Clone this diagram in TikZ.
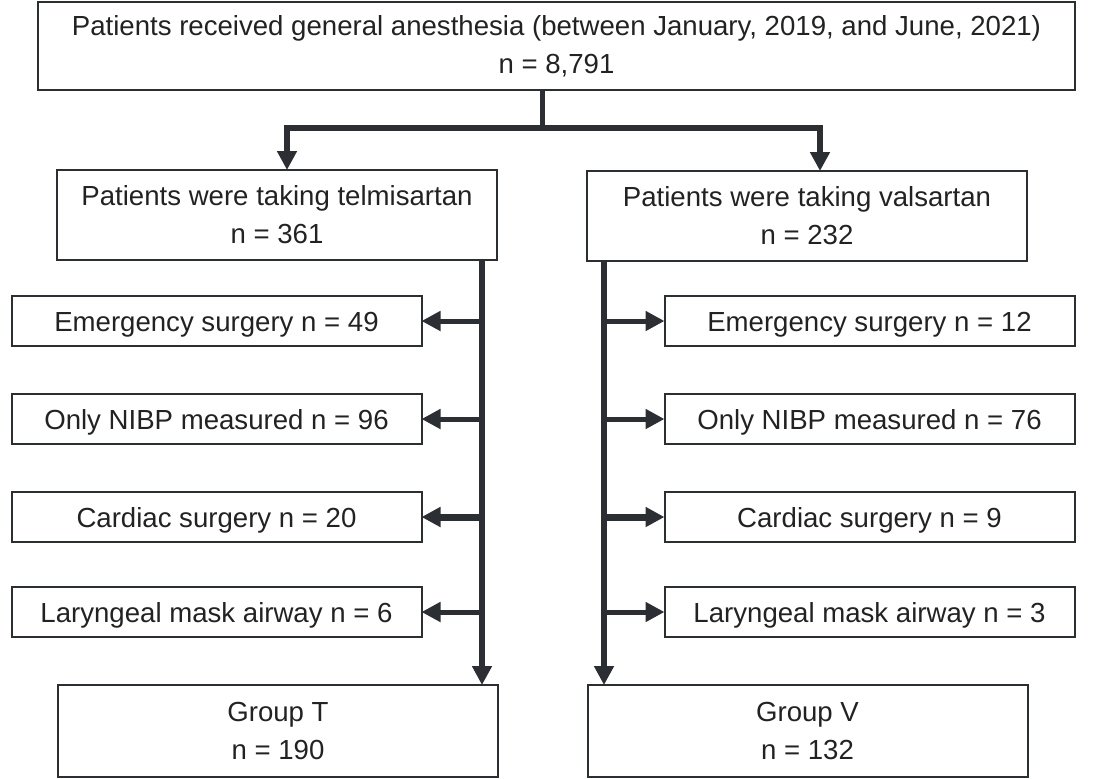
\documentclass[tikz,border=0pt]{standalone}
\usepackage{fontspec}
\setmainfont{Liberation Sans}
\usetikzlibrary{arrows.meta}
\usetikzlibrary{positioning}
\definecolor{inkgray}{HTML}{2B2E33}
\definecolor{textgray}{HTML}{222222}
\tikzset{
  flowbox/.style={draw=inkgray, line width=1pt, align=center, inner sep=0pt,
    outer sep=0pt, text=textgray, font=\fontsize{13.8}{19}\selectfont},
  twoline/.style={flowbox, execute at begin node={\rule{0pt}{13.5pt}}},
  bigbox/.style={twoline, minimum width=220pt, minimum height=45pt},
  exclbox/.style={flowbox, minimum width=205pt, minimum height=25pt,
    text height=13.5pt, text depth=2.9pt},
  flowarrow/.style={draw=inkgray, line width=2.5pt,
    -{Triangle[length=9.5pt,width=9.5pt]}},
  spine/.style={flowarrow, line width=3pt}
}
\begin{document}
\begin{tikzpicture}[x=0.5pt, y=-0.5pt]
  \useasboundingbox (0,0) rectangle (1102,778);

  \node [twoline, minimum width=518.5pt, minimum height=44pt] (iall) at (556.5,46)
    {Patients received general anesthesia (between January, 2019, and June, 2021)\\n = 8,791};

  \node [bigbox] (itel) at (277,215) {Patients were taking telmisartan\\n = 361};
  \node [bigbox] (ival) at (807,216) {Patients were taking valsartan\\n = 232};

  % exclusions, telmisartan side
  \node [exclbox] (ltel1) at (216.5,321) {Emergency surgery n = 49};
  \node [exclbox] (ltel2) at (216.5,419) {Only NIBP measured n = 96};
  \node [exclbox] (ltel3) at (216.5,517) {Cardiac surgery n = 20};
  \node [exclbox] (ltel4) at (216.5,612) {Laryngeal mask airway n = 6};

  % exclusions, valsartan side
  \node [exclbox] (lval1) at (869.5,321) {Emergency surgery n = 12};
  \node [exclbox] (lval2) at (869.5,419) {Only NIBP measured n = 76};
  \node [exclbox] (lval3) at (869.5,517) {Cardiac surgery n = 9};
  \node [exclbox] (lval4) at (869.5,612) {Laryngeal mask airway n = 3};

  \node [bigbox, minimum height=46pt] (igrpT) at (278,731) {Group T\\n = 190};
  \node [bigbox, minimum height=46pt] (igrpV) at (807.5,731) {Group V\\n = 132};

  \coordinate (split) at (542,128);
  \coordinate (tspine) at (482,0);
  \coordinate (vspine) at (604,0);

  \draw [draw=inkgray, line width=2.5pt] (iall.south -| split) -- (split);
  \draw [flowarrow, line width=3pt] (split) -| ([xshift=5pt]itel.north);
  \draw [flowarrow, line width=3pt] (split) -| ([xshift=6.5pt]ival.north);

  \draw [spine] (itel.south -| tspine) -- (igrpT.north -| tspine);
  \draw [spine] (ival.south -| vspine) -- (igrpV.north -| vspine);

  \foreach \i in {1,2,4} {
    \draw [flowarrow] (ltel\i.east -| tspine) -- (ltel\i.east);
    \draw [flowarrow] (lval\i.west -| vspine) -- (lval\i.west);
  }
  \draw [flowarrow, line width=3.5pt] (ltel3.east -| tspine) -- (ltel3.east);
  \draw [flowarrow, line width=3.5pt] (lval3.west -| vspine) -- (lval3.west);
\end{tikzpicture}
\end{document}
